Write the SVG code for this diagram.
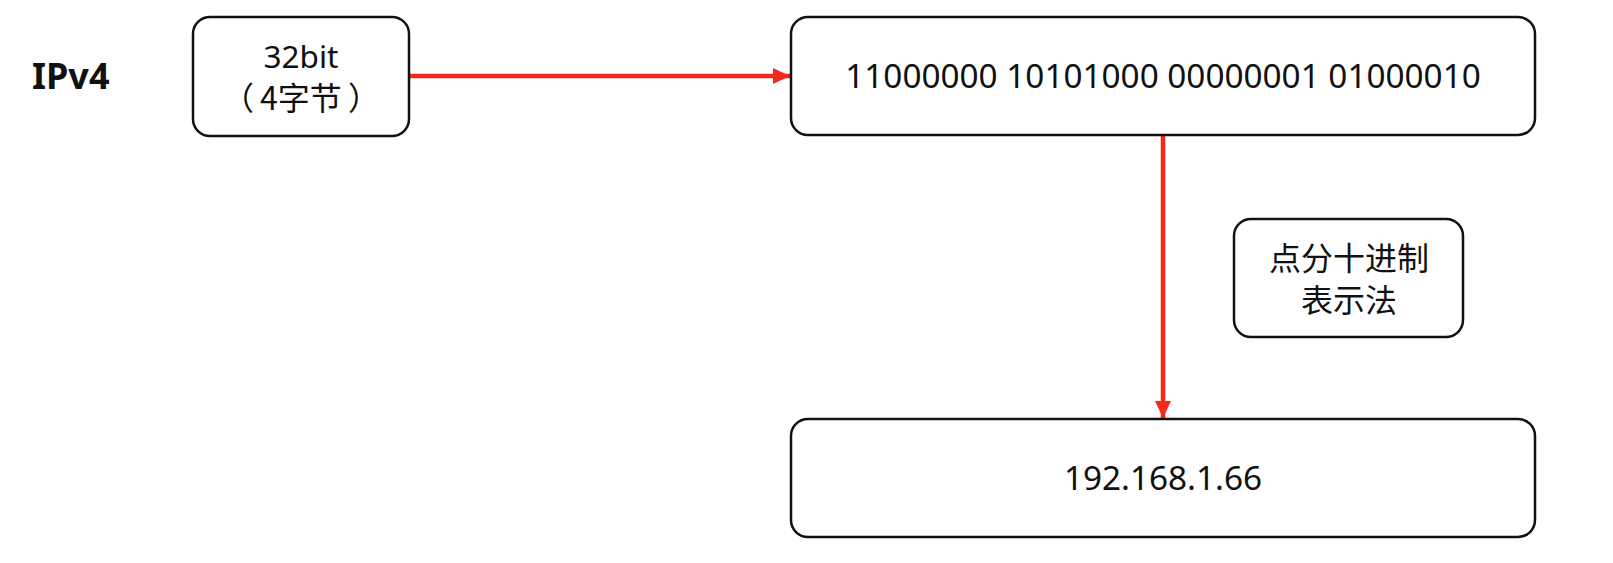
<svg xmlns="http://www.w3.org/2000/svg" width="1613" height="563" viewBox="0 0 1613 563">
<style>
.box{fill:#fff;stroke:#111;stroke-width:2.5}
.t{font-family:"Noto Sans","Noto Sans CJK SC",sans-serif;fill:#111;text-anchor:middle}
.cn{font-family:"Noto Sans CJK SC","Noto Sans",sans-serif;fill:#111;text-anchor:middle}
.edge{stroke:#f5281a;stroke-width:4.5;fill:none}
</style>
<defs>
<marker id="ah" viewBox="0 0 17 16" refX="17" refY="8" markerWidth="17" markerHeight="16" markerUnits="userSpaceOnUse" orient="auto">
<path d="M0,0 L17,8 L0,16 Z" fill="#f5281a"/>
</marker>
</defs>
<rect width="1613" height="563" fill="#fff"/>
<g id="title">
<text x="32" y="89" font-family="'Noto Sans',sans-serif" font-weight="bold" font-size="36" fill="#111">IPv4</text>
</g>
<g id="connectors">
<line class="edge" x1="410" y1="76" x2="790" y2="76" marker-end="url(#ah)"/>
<line class="edge" x1="1163" y1="136" x2="1163" y2="418" marker-end="url(#ah)"/>
</g>
<g id="node-32bit">
<rect class="box" x="193" y="17" width="216" height="119" rx="17"/>
<text class="t" x="301" y="68" font-size="31.5">32bit</text>
<text class="cn" x="301" y="110" font-size="32">（<tspan dx="6">4字节</tspan><tspan dx="6">）</tspan></text>
</g>
<g id="node-binary">
<rect class="box" x="791" y="17" width="744" height="118" rx="17"/>
<text class="t" x="1163" y="88" font-size="33.3">11000000 10101000 00000001 01000010</text>
</g>
<g id="node-label">
<rect class="box" x="1234" y="219" width="229" height="118" rx="17"/>
<text class="cn" x="1349" y="270" font-size="32">点分十进制</text>
<text class="cn" x="1349" y="312" font-size="32">表示法</text>
</g>
<g id="node-decimal">
<rect class="box" x="791" y="419" width="744" height="118" rx="17"/>
<text class="t" x="1163" y="490" font-size="33.3">192.168.1.66</text>
</g>
</svg>
